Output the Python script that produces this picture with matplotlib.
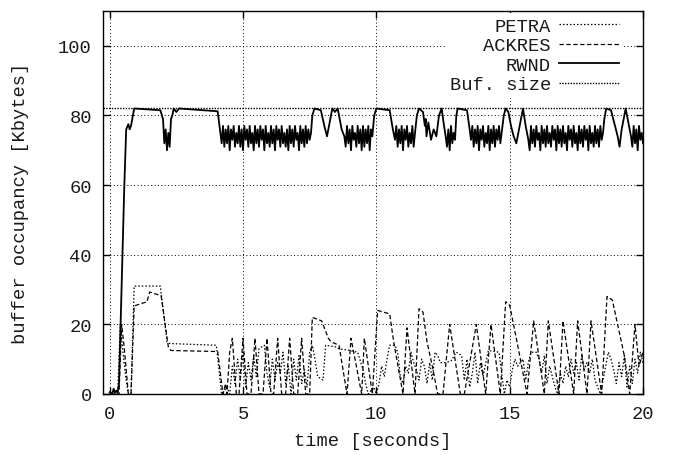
import numpy as np
import matplotlib
matplotlib.use("Agg")
import matplotlib.pyplot as plt
from matplotlib.lines import Line2D

# ---------------- data ----------------
x_ticks = [0, 5, 10, 15, 20]
y_ticks = [0, 20, 40, 60, 80, 100]
buf_size = 82.0

# RWND key points (non-oscillating parts)
rwnd_key_t = [0.0, 0.1, 0.15, 0.2, 0.25, 0.3, 0.35, 0.55, 0.62, 0.7, 0.75, 0.8, 0.92,
              1.9, 2.0, 2.05, 2.1, 2.15, 2.2, 2.25, 2.3, 2.35, 2.4, 2.5, 2.6, 4.05,
              7.6, 7.68, 7.92, 8.05, 8.15, 8.2, 8.3, 8.35, 8.45, 8.55, 8.7,
              9.92, 10.0, 10.5, 10.62,
              11.52, 11.6, 11.75, 11.82, 11.85, 11.88, 11.95, 12.05, 12.15, 12.25, 12.35, 12.45, 12.52,
              13.0, 13.05, 13.4, 13.5,
              14.78, 14.85, 14.95, 15.05, 15.15, 15.25, 15.35, 15.45, 15.5, 15.6,
              18.55, 18.62, 18.8, 18.95, 19.05, 19.12, 19.2, 19.3, 19.35, 19.45]
rwnd_key_v = [0.5, 0.2, 1.5, 0.3, 1.0, 0.5, 3.0, 60, 76, 77.5, 76, 77, 82,
              81.5, 79, 72, 76, 70, 75, 71, 79, 80, 82, 81, 82, 81.2,
              80, 82, 81.5, 77, 74, 76, 80, 82, 81, 82, 76,
              80, 82, 81.5, 76,
              80, 82, 81, 77, 79, 74, 78, 73, 76, 74, 80, 82, 78,
              80, 82, 81.5, 76,
              80, 82, 81, 77, 74, 72, 76, 80, 82, 77,
              79, 82, 81.5, 77, 74, 71, 76, 80, 82, 78]

# RWND oscillating stretches: start time and values every 0.05 s
rwnd_osc_start = [4.15, 8.8, 10.7, 12.6, 13.55, 15.7, 19.55]
rwnd_osc_vals = [
    [75, 72, 77, 71, 76, 72, 77, 70, 76, 73, 77, 71, 75, 72, 77, 71, 76, 70, 77, 73,
     76, 71, 77, 72, 75, 70, 77, 72, 76, 71, 77, 73, 76, 70, 77, 72, 75, 71, 77, 72,
     76, 70, 77, 73, 76, 71, 77, 72, 75, 71, 76, 70, 77, 72, 76, 71, 77, 73, 75, 70,
     77, 72, 76, 71, 77, 72, 76, 73, 75],
    [74, 71, 77, 72, 76, 70, 77, 73, 75, 71, 77, 72, 76, 70, 77, 71, 76, 72, 77, 70, 76, 74],
    [73, 77, 71, 76, 72, 77, 70, 76, 73, 77, 71, 75, 72, 77, 71, 75],
    [74, 71, 76, 70, 77, 72, 75, 73],
    [73, 77, 71, 76, 72, 77, 70, 76, 73, 77, 71, 75, 72, 77, 70, 76, 72, 77, 71, 76,
     73, 77, 72, 75],
    [73, 70, 77, 72, 76, 71, 77, 73, 75, 70, 77, 72, 76, 71, 77, 72, 75, 71, 77, 73,
     76, 70, 77, 72, 76, 71, 77, 72, 75, 70, 77, 73, 76, 71, 77, 72, 75, 70, 77, 72,
     76, 71, 77, 73, 76, 70, 77, 72, 75, 71, 77, 72, 76, 71, 77, 73, 75],
    [74, 71, 77, 72, 76, 70, 77, 73, 75, 72],
]

petra_t = [0, 0.3, 0.4, 0.5, 0.6, 0.7, 0.8, 0.92, 1.9, 2.15, 2.25, 4.0, 4.2, 4.4, 4.5, 4.6,
           4.7, 4.8, 4.9, 5.0, 5.1, 5.2, 5.3, 5.4, 5.5, 5.6, 5.8, 5.9, 6.0, 6.1, 6.2, 6.3,
           6.4, 6.5, 6.6, 6.7, 6.8, 6.9, 7.0, 7.1, 7.2, 7.3, 7.4, 7.5, 7.6, 7.7, 7.8, 8.0,
           8.1, 8.5, 8.6, 9.0, 9.3, 9.5, 9.6, 9.7, 9.9, 10.0, 10.1, 10.2, 10.3, 10.4, 10.5,
           10.7, 10.8, 10.9, 11.0, 11.1, 11.2, 11.3, 11.4, 11.5, 11.6, 11.7, 11.8, 11.9,
           12.0, 12.1, 12.2, 12.3, 12.4, 12.6, 12.8, 13.0, 13.2, 13.3, 13.4, 13.5, 13.6,
           13.7, 13.8, 13.9, 14.0, 14.2, 14.6, 14.7, 14.8, 14.9, 15.0, 15.1, 15.2, 15.3,
           15.5, 15.6, 15.7, 15.8, 16.0, 16.1, 16.2, 16.3, 16.4, 16.5, 16.6, 16.7, 16.8,
           16.9, 17.0, 17.1, 17.2, 17.3, 17.4, 17.5, 17.6, 17.7, 17.8, 17.9, 18.0, 18.1,
           18.2, 18.3, 18.4, 18.5, 18.6, 18.7, 18.8, 18.9, 19.0, 19.1, 19.2, 19.3, 19.4,
           19.5, 19.6, 19.7, 19.8, 19.9, 20.0]
petra_v = [0, 0, 20, 12, 5, 0, 0, 31, 31, 15, 14.5, 14, 0, 2, 0, 8,
           3, 10, 4, 12, 2, 9, 4, 11, 5, 13, 14, 6, 2, 10, 4, 9,
           6, 12, 3, 8, 0, 10, 4, 11, 3, 7, 2, 12, 14, 10, 5, 4,
           14, 13.5, 13, 12.5, 12, 7, 3, 0, 2, 0, 3, 8, 5, 10, 14,
           14, 12, 5, 3, 8, 6, 12, 9, 7, 4, 10, 8, 3,
           9, 4, 12, 11, 9, 9, 9.5, 12, 11, 4, 10, 2, 6,
           12, 3, 9, 5, 12.5, 12, 6, 0, 4, 2, 7, 10, 8,
           10, 4, 9, 12, 12, 10, 6, 11, 3, 8, 5, 2, 0,
           6, 3, 8, 5, 10, 6, 9, 4, 11, 7, 9, 6, 10,
           4, 2, 0, 4, 8, 12, 10, 7, 3, 9, 5, 11, 2,
           8, 3, 10, 6, 12, 9]

ackres_t = [0, 0.35, 0.45, 0.55, 0.7, 0.8, 0.92, 1.4, 1.5, 1.93, 2.2, 2.3, 4.05, 4.25,
            4.35, 4.4, 4.5, 4.6, 4.75, 4.85, 5.0, 5.15, 5.3, 5.45, 5.6, 5.75, 5.9, 6.05,
            6.15, 6.3, 6.45, 6.6, 6.75, 6.9, 7.05, 7.2, 7.35, 7.5, 7.6, 7.95, 8.2, 8.3,
            8.6, 8.9, 9.05, 9.45, 9.55, 9.85, 10.05, 10.5, 10.65, 11.0, 11.15, 11.45,
            11.6, 11.75, 11.9, 12.1, 12.3, 12.5, 12.75, 13.15, 13.3, 13.75, 14.1, 14.3,
            14.65, 14.85, 15.0, 15.3, 15.65, 15.9, 16.3, 16.45, 16.85, 17.0, 17.4, 17.55,
            17.9, 18.05, 18.45, 18.65, 18.85, 19.3, 19.5, 19.7, 19.85, 20.0]
ackres_v = [0, 0, 20, 13, 0, 0, 25.3, 26.5, 29.3, 28.2, 13.5, 12.5, 12.2, 0,
            3, 0, 12, 16, 0, 0, 16, 0, 0, 16, 0, 0, 16, 0,
            0, 16, 0, 0, 16, 0, 0, 16, 0, 0, 22, 21, 16, 15,
            14, 0, 16, 0, 16, 0, 24, 23, 15, 0, 19, 0,
            24.5, 23.5, 15, 8, 0, 0, 20, 0, 0, 20, 0, 20,
            0, 26.5, 25.5, 14, 0, 21, 0, 21, 0, 21, 0, 21,
            0, 21, 0, 28, 27, 11, 0, 20, 8, 12]

# ---------------- build RWND series ----------------
rt = list(rwnd_key_t)
rv = list(rwnd_key_v)
for s, vals in zip(rwnd_osc_start, rwnd_osc_vals):
    rt += list(s + 0.05 * np.arange(len(vals)))
    rv += list(vals)
order = np.argsort(rt, kind="stable")
rwnd_t = np.array(rt)[order]
rwnd_v = np.array(rv)[order]
keep = rwnd_t <= 20.0
rwnd_t, rwnd_v = rwnd_t[keep], rwnd_v[keep]

# ---------------- plot ----------------
plt.rcParams['font.family'] = ['Liberation Mono', 'DejaVu Sans Mono']
FS = 13.5
TXT = '#1a1a1a'

fig = plt.figure(figsize=(6.75, 4.56), dpi=100)
ax = fig.add_axes([103/675, 1-395/456, (643-103)/675, (395-12)/456])

petra_style = (0, (1.2, 1.6))
ackres_style = (0, (3.5, 2.0))
buf_style = (0, (1.0, 1.0))

ax.plot(petra_t, petra_v, color='black', lw=0.9, ls=petra_style, zorder=3)
ax.plot(ackres_t, ackres_v, color='black', lw=0.9, ls=ackres_style, zorder=3)
ax.plot(rwnd_t, rwnd_v, color='black', lw=1.3, ls='-', zorder=4)
ax.axhline(buf_size, color='black', lw=1.0, ls=buf_style, zorder=3)

ax.set_xlim(-0.25, 20)
ax.set_ylim(0, 110)
ax.set_xticks(x_ticks)
ax.set_yticks(y_ticks)
ax.tick_params(direction='in', length=5, width=1, top=True, right=True,
               labelsize=FS, colors='black', labelcolor=TXT, pad=8)
ax.grid(True, color='black', lw=0.7, ls=(0, (1, 2.5)))
for sp in ax.spines.values():
    sp.set_linewidth(1.0)

ax.set_xlabel('time [seconds]', fontsize=FS, labelpad=7, color=TXT)
ax.set_ylabel('buffer occupancy [Kbytes]', fontsize=FS, labelpad=21, color=TXT)

handles = [
    Line2D([], [], color='black', lw=0.9, ls=petra_style),
    Line2D([], [], color='black', lw=0.9, ls=ackres_style),
    Line2D([], [], color='black', lw=1.3, ls='-'),
    Line2D([], [], color='black', lw=1.0, ls=buf_style),
]
labels = ['PETRA', 'ACKRES', 'RWND', 'Buf. size']
leg = ax.legend(handles, labels, loc='upper right', markerfirst=False,
                fontsize=FS, frameon=True, fancybox=False, framealpha=1,
                facecolor='white', edgecolor='none', handlelength=3.2,
                handletextpad=0.45, labelspacing=0.13, borderpad=0.25,
                borderaxespad=0.0, alignment='right',
                bbox_to_anchor=(0.965, 0.995))
leg.set_zorder(10)
for t in leg.get_texts():
    t.set_ha('right')
    t.set_color(TXT)

fig.savefig('out.png', dpi=100)
